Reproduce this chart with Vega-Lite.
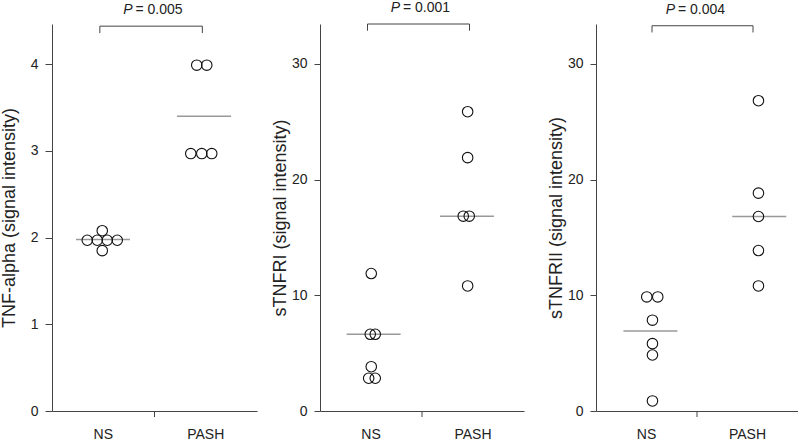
{
  "$schema": "https://vega.github.io/schema/vega-lite/v6.json",
  "padding": {"left": 0, "top": 1, "right": 0, "bottom": 0},
  "spacing": 14,
  "config": {
    "view": {"stroke": null},
    "font": "Liberation Sans",
    "axis": {
      "domainColor": "#444", "tickColor": "#444", "labelColor": "#222", "titleColor": "#222",
      "labelFont": "Liberation Sans", "titleFont": "Liberation Sans",
      "labelFontSize": 14, "titleFontSize": 18, "titleFontWeight": "normal", "grid": false
    },
    "axisX": {"ticks": false, "tickSize": 0, "labelPadding": 16, "labelAngle": 0, "title": null},
    "axisY": {"tickSize": 7, "labelPadding": 7}
  },
  "datasets": {
    "points": [
      {"panel": "A", "group": "NS", "value": 1.97, "slot": -1.6},
      {"panel": "A", "group": "NS", "value": 1.97, "slot": -0.6},
      {"panel": "A", "group": "NS", "value": 1.97, "slot": 0.4},
      {"panel": "A", "group": "NS", "value": 1.97, "slot": 1.4},
      {"panel": "A", "group": "NS", "value": 2.08, "slot": -0.1},
      {"panel": "A", "group": "NS", "value": 1.85, "slot": -0.1},
      {"panel": "A", "group": "PASH", "value": 3.99, "slot": -0.9},
      {"panel": "A", "group": "PASH", "value": 3.99, "slot": 0.1},
      {"panel": "A", "group": "PASH", "value": 2.97, "slot": -1.5},
      {"panel": "A", "group": "PASH", "value": 2.97, "slot": -0.4},
      {"panel": "A", "group": "PASH", "value": 2.97, "slot": 0.6},
      {"panel": "B", "group": "NS", "value": 11.88, "slot": 0},
      {"panel": "B", "group": "NS", "value": 6.63, "slot": -0.1},
      {"panel": "B", "group": "NS", "value": 6.63, "slot": 0.4},
      {"panel": "B", "group": "NS", "value": 3.83, "slot": 0},
      {"panel": "B", "group": "NS", "value": 2.83, "slot": -0.26},
      {"panel": "B", "group": "NS", "value": 2.83, "slot": 0.4},
      {"panel": "B", "group": "PASH", "value": 25.87, "slot": -0.56},
      {"panel": "B", "group": "PASH", "value": 21.9, "slot": -0.56},
      {"panel": "B", "group": "PASH", "value": 16.84, "slot": -1.0},
      {"panel": "B", "group": "PASH", "value": 16.84, "slot": -0.4},
      {"panel": "B", "group": "PASH", "value": 10.81, "slot": -0.56},
      {"panel": "C", "group": "NS", "value": 9.86, "slot": -0.05},
      {"panel": "C", "group": "NS", "value": 9.86, "slot": 1.05},
      {"panel": "C", "group": "NS", "value": 7.85, "slot": 0.52},
      {"panel": "C", "group": "NS", "value": 5.82, "slot": 0.52},
      {"panel": "C", "group": "NS", "value": 4.84, "slot": 0.52},
      {"panel": "C", "group": "NS", "value": 0.87, "slot": 0.52},
      {"panel": "C", "group": "PASH", "value": 26.82, "slot": 1.02},
      {"panel": "C", "group": "PASH", "value": 18.83, "slot": 1.02},
      {"panel": "C", "group": "PASH", "value": 16.81, "slot": 1.02},
      {"panel": "C", "group": "PASH", "value": 13.87, "slot": 1.02},
      {"panel": "C", "group": "PASH", "value": 10.81, "slot": 1.02}
    ],
    "centres": [
      {"panel": "A", "group": "NS", "value": 1.98, "slot": -0.03},
      {"panel": "A", "group": "PASH", "value": 3.4, "slot": -0.17},
      {"panel": "B", "group": "NS", "value": 6.63, "slot": 0.24},
      {"panel": "B", "group": "PASH", "value": 16.84, "slot": -0.63},
      {"panel": "C", "group": "NS", "value": 6.92, "slot": 0.32},
      {"panel": "C", "group": "PASH", "value": 16.81, "slot": 1.1}
    ],
    "brackets": [
      {"panel": "A", "group": "NS", "value": 4.36, "order": 1},
      {"panel": "A", "group": "NS", "value": 4.44, "order": 2},
      {"panel": "A", "group": "PASH", "value": 4.44, "order": 3},
      {"panel": "A", "group": "PASH", "value": 4.36, "order": 4},
      {"panel": "B", "group": "NS", "value": 32.87, "order": 1},
      {"panel": "B", "group": "NS", "value": 33.45, "order": 2},
      {"panel": "B", "group": "PASH", "value": 33.45, "order": 3},
      {"panel": "B", "group": "PASH", "value": 32.87, "order": 4},
      {"panel": "C", "group": "NS", "value": 32.72, "order": 1},
      {"panel": "C", "group": "NS", "value": 33.3, "order": 2},
      {"panel": "C", "group": "PASH", "value": 33.3, "order": 3},
      {"panel": "C", "group": "PASH", "value": 32.72, "order": 4}
    ],
    "tests": [
      {"panel": "A", "group": "NS", "value": 4.44, "label": "= 0.005", "tickEnd": -0.07},
      {"panel": "B", "group": "NS", "value": 33.45, "label": "= 0.001", "tickEnd": -0.52},
      {"panel": "C", "group": "NS", "value": 33.3, "label": "= 0.004", "tickEnd": -0.52}
    ]
  },
  "hconcat": [
    {
      "width": 205, "height": 387,
      "encoding": {
        "x": {"field": "group", "type": "nominal", "scale": {"paddingInner": 0, "paddingOuter": 0}},
        "y": {"field": "value", "type": "quantitative",
              "scale": {"domain": [0, 4.465], "nice": false},
              "axis": {"values": [0, 1, 2, 3, 4], "title": "TNF-alpha (signal intensity)", "titlePadding": 12}}
      },
      "layer": [
        {"data": {"name": "centres"}, "transform": [{"filter": "datum.panel === 'A'"}],
         "mark": {"type": "tick", "orient": "horizontal", "size": 54, "thickness": 1.5, "color": "#6e6e6e"},
         "encoding": {"xOffset": {"field": "slot", "type": "quantitative", "scale": {"domain": [-5.125, 5.125]}}}},
        {"data": {"name": "points"}, "transform": [{"filter": "datum.panel === 'A'"}],
         "mark": {"type": "point", "shape": "circle", "size": 110, "filled": false, "stroke": "#111", "strokeWidth": 1.1, "fill": "white", "fillOpacity": 0, "opacity": 1},
         "encoding": {"xOffset": {"field": "slot", "type": "quantitative", "scale": {"domain": [-5.125, 5.125]}}}},
        {"data": {"name": "brackets"}, "transform": [{"filter": "datum.panel === 'A'"}],
         "mark": {"type": "line", "color": "#444", "strokeWidth": 1, "xOffset": -3.4},
         "encoding": {"order": {"field": "order"}}},
        {"data": {"name": "tests"}, "transform": [{"filter": "datum.panel === 'A'"}],
         "mark": {"type": "rule", "color": "#444", "strokeWidth": 1},
         "encoding": {"x": {"field": "group", "type": "nominal", "bandPosition": 1}, "y": {"datum": 0}, "y2": {"field": "tickEnd"}}},
        {"data": {"name": "tests"}, "transform": [{"filter": "datum.panel === 'A'"}],
         "mark": {"type": "text", "text": "P", "fontStyle": "italic", "fontSize": 14, "align": "right", "baseline": "alphabetic", "dx": -22, "dy": -12, "color": "#222", "clip": false},
         "encoding": {"x": {"field": "group", "type": "nominal", "bandPosition": 1}}},
        {"data": {"name": "tests"}, "transform": [{"filter": "datum.panel === 'A'"}],
         "mark": {"type": "text", "fontSize": 14, "align": "left", "baseline": "alphabetic", "dx": -19, "dy": -12, "color": "#222", "clip": false},
         "encoding": {"x": {"field": "group", "type": "nominal", "bandPosition": 1}, "text": {"field": "label"}}}
      ]
    },
    {
      "width": 213, "height": 387,
      "encoding": {
        "x": {"field": "group", "type": "nominal", "scale": {"paddingInner": 0, "paddingOuter": 0, "range": [0, 204]}},
        "y": {"field": "value", "type": "quantitative",
              "scale": {"domain": [0, 33.45], "nice": false},
              "axis": {"values": [0, 10, 20, 30], "title": "sTNFRI (signal intensity)", "titlePadding": 2, "tickSize": 6}}
      },
      "layer": [
        {"data": {"name": "centres"}, "transform": [{"filter": "datum.panel === 'B'"}],
         "mark": {"type": "tick", "orient": "horizontal", "size": 54, "thickness": 1.5, "color": "#6e6e6e"},
         "encoding": {"xOffset": {"field": "slot", "type": "quantitative", "scale": {"domain": [-5.1, 5.1]}}}},
        {"data": {"name": "points"}, "transform": [{"filter": "datum.panel === 'B'"}],
         "mark": {"type": "point", "shape": "circle", "size": 110, "filled": false, "stroke": "#111", "strokeWidth": 1.1, "fill": "white", "fillOpacity": 0, "opacity": 1},
         "encoding": {"xOffset": {"field": "slot", "type": "quantitative", "scale": {"domain": [-5.1, 5.1]}}}},
        {"data": {"name": "brackets"}, "transform": [{"filter": "datum.panel === 'B'"}],
         "mark": {"type": "line", "color": "#444", "strokeWidth": 1, "xOffset": -3.5},
         "encoding": {"order": {"field": "order"}}},
        {"data": {"name": "tests"}, "transform": [{"filter": "datum.panel === 'B'"}],
         "mark": {"type": "rule", "color": "#444", "strokeWidth": 1},
         "encoding": {"x": {"field": "group", "type": "nominal", "bandPosition": 1}, "y": {"datum": 0}, "y2": {"field": "tickEnd"}}},
        {"data": {"name": "tests"}, "transform": [{"filter": "datum.panel === 'B'"}],
         "mark": {"type": "text", "text": "P", "fontStyle": "italic", "fontSize": 14, "align": "right", "baseline": "alphabetic", "dx": -22, "dy": -12, "color": "#222", "clip": false},
         "encoding": {"x": {"field": "group", "type": "nominal", "bandPosition": 1}}},
        {"data": {"name": "tests"}, "transform": [{"filter": "datum.panel === 'B'"}],
         "mark": {"type": "text", "fontSize": 14, "align": "left", "baseline": "alphabetic", "dx": -19, "dy": -12, "color": "#222", "clip": false},
         "encoding": {"x": {"field": "group", "type": "nominal", "bandPosition": 1}, "text": {"field": "label"}}}
      ]
    },
    {
      "width": 202, "height": 387,
      "encoding": {
        "x": {"field": "group", "type": "nominal", "scale": {"paddingInner": 0, "paddingOuter": 0}},
        "y": {"field": "value", "type": "quantitative",
              "scale": {"domain": [0, 33.45], "nice": false},
              "axis": {"values": [0, 10, 20, 30], "title": "sTNFRII (signal intensity)", "titlePadding": 2, "tickSize": 6}}
      },
      "layer": [
        {"data": {"name": "centres"}, "transform": [{"filter": "datum.panel === 'C'"}],
         "mark": {"type": "tick", "orient": "horizontal", "size": 54, "thickness": 1.5, "color": "#6e6e6e"},
         "encoding": {"xOffset": {"field": "slot", "type": "quantitative", "scale": {"domain": [-5.05, 5.05]}}}},
        {"data": {"name": "points"}, "transform": [{"filter": "datum.panel === 'C'"}],
         "mark": {"type": "point", "shape": "circle", "size": 110, "filled": false, "stroke": "#111", "strokeWidth": 1.1, "fill": "white", "fillOpacity": 0, "opacity": 1},
         "encoding": {"xOffset": {"field": "slot", "type": "quantitative", "scale": {"domain": [-5.05, 5.05]}}}},
        {"data": {"name": "brackets"}, "transform": [{"filter": "datum.panel === 'C'"}],
         "mark": {"type": "line", "color": "#444", "strokeWidth": 1, "xOffset": 5.5},
         "encoding": {"order": {"field": "order"}}},
        {"data": {"name": "tests"}, "transform": [{"filter": "datum.panel === 'C'"}],
         "mark": {"type": "rule", "color": "#444", "strokeWidth": 1},
         "encoding": {"x": {"field": "group", "type": "nominal", "bandPosition": 1}, "y": {"datum": 0}, "y2": {"field": "tickEnd"}}},
        {"data": {"name": "tests"}, "transform": [{"filter": "datum.panel === 'C'"}],
         "mark": {"type": "text", "text": "P", "fontStyle": "italic", "fontSize": 14, "align": "right", "baseline": "alphabetic", "dx": -22, "dy": -12, "color": "#222", "clip": false},
         "encoding": {"x": {"field": "group", "type": "nominal", "bandPosition": 1}}},
        {"data": {"name": "tests"}, "transform": [{"filter": "datum.panel === 'C'"}],
         "mark": {"type": "text", "fontSize": 14, "align": "left", "baseline": "alphabetic", "dx": -19, "dy": -12, "color": "#222", "clip": false},
         "encoding": {"x": {"field": "group", "type": "nominal", "bandPosition": 1}, "text": {"field": "label"}}}
      ]
    }
  ]
}
